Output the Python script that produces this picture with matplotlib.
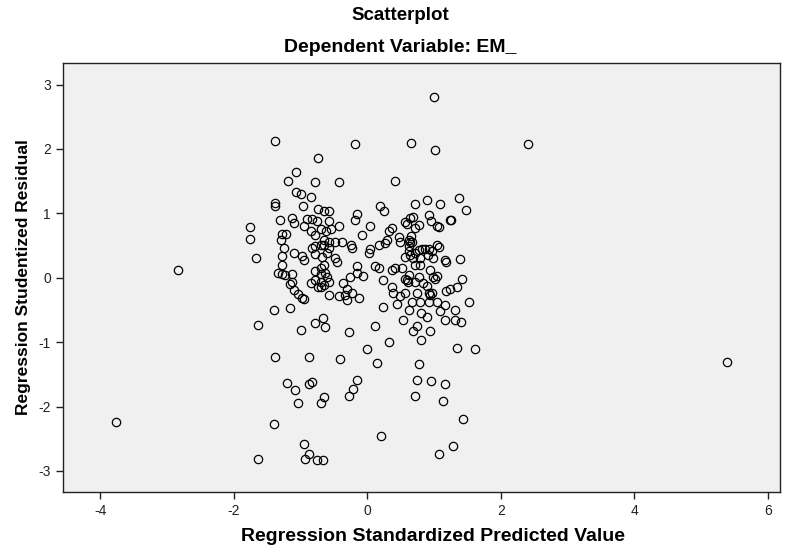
import matplotlib
matplotlib.use("Agg")
import matplotlib.pyplot as plt
import numpy as np

plt.rcParams['font.family'] = ['Liberation Sans', 'DejaVu Sans']
plt.rcParams['axes.unicode_minus'] = False

# Regression Standardized Predicted Value
pred = [
    -1.38, -0.74, -1.06, -1.19, -0.79, -1.06, -0.99, -0.85, -1.38, -1.38,
    -0.96, -0.74, -0.65, -0.57, -1.31, -1.13, -1.10, -0.90, -0.83, -0.75,
    -0.95, -1.76, -1.76, -1.28, -1.21, -1.29, -0.84, -0.78, -1.25, -1.09,
    -0.83, -0.78, -0.65, -1.66, -1.28, -0.98,
    -0.19, 0.65, -0.43, 0.41, 0.19, 0.25, -0.15, -0.18, -0.58, -0.43,
    0.04, -0.69, -0.62, -0.54, 0.37, 0.33, -0.08, 0.47, 0.49, 0.29,
    0.27, -0.65, -0.58, -0.48, -0.38, -0.70, -0.25, -0.23, 0.17, 0.64,
    0.62, -0.58, 0.04, 0.02, -0.68, -0.48, 0.57, 0.64, 0.64, 0.68,
    0.57, 0.72,
    1.01, 1.00, 1.37, 0.89, 1.09, 1.48, 0.93, 0.96, 1.24, 1.26,
    0.77, 0.72, 1.04, 1.07, 0.59, 0.66, 0.63, 0.67, 1.04, 1.07,
    0.87, 0.93, 0.97, 0.82, 0.78, 0.63, 0.69, 0.79, 0.99, 1.17, 1.39,
    -1.28, -0.95, -0.78, -0.60, -1.33, -1.28, -1.23, -1.13, -1.12, -1.15,
    -0.79, -0.70, -0.63, -0.60, -0.85, -0.78, -0.74, -0.69, -1.10, -1.03,
    -0.98, -0.95, -0.58, -1.40, -1.15, -1.64, -0.99, -0.78, -0.67, -0.64,
    -1.38, -0.87,
    -0.46, -0.65, -0.70, -0.15, -0.16, -0.06, -0.26, 0.12, 0.17, 0.24,
    0.37, 0.42, 0.52, 0.57, 0.59, 0.61, 0.62, -0.70, -0.58, -0.65,
    -0.36, -0.30, -0.23, -0.33, -0.43, -0.12, -0.30, 0.37, 0.38, 0.49,
    0.45, 0.62, 0.67, 0.24, 0.53, 0.12, -0.27, 0.68, 0.32, 0.00,
    -0.41, 0.15,
    0.72, 0.91, 1.18, 0.72, 0.79, 0.94, 1.42, 0.72, 0.77, 0.99,
    1.02, 1.04, 0.84, 0.89, 0.74, 0.57, 0.92, 0.94, 0.97, 1.18,
    1.24, 1.34, 1.52, 0.79, 0.92, 1.04, 1.17, 1.09, 1.32, 0.81,
    0.89, 1.17, 1.31, 1.41, 0.74, 0.94, 0.81, 1.34, 1.62, 0.78,
    -1.20, -1.08, -0.88, -0.83, -0.65, -0.69, -1.03, -1.39, -0.95, -0.87,
    -1.63, -0.93, -0.75, -0.67, -0.15, -0.21, -0.27, 0.21, 0.74, 0.95,
    1.16, 0.72, 1.13, 1.44, 1.29, 1.08,
    -3.76, -2.84, 2.41, 5.39,
]

# Regression Studentized Residual
resid = [
    2.13, 1.86, 1.64, 1.51, 1.48, 1.33, 1.30, 1.26, 1.16, 1.12,
    1.11, 1.07, 1.04, 1.03, 0.89, 0.93, 0.85, 0.92, 0.91, 0.88,
    0.80, 0.79, 0.60, 0.68, 0.68, 0.59, 0.72, 0.67, 0.46, 0.39,
    0.46, 0.49, 0.51, 0.31, 0.34, 0.34,
    2.08, 2.09, 1.49, 1.50, 1.12, 1.03, 0.99, 0.90, 0.88, 0.81,
    0.81, 0.75, 0.72, 0.75, 0.78, 0.72, 0.66, 0.63, 0.56, 0.59,
    0.54, 0.59, 0.56, 0.56, 0.56, 0.51, 0.51, 0.47, 0.51, 0.56,
    0.49, 0.46, 0.44, 0.38, 0.33, 0.31, 0.33, 0.36, 0.93, 0.94,
    0.86, 1.15,
    1.98, 2.80, 1.24, 1.21, 1.15, 1.05, 0.98, 0.88, 0.89, 0.89,
    0.82, 0.77, 0.80, 0.79, 0.84, 0.65, 0.59, 0.55, 0.51, 0.48,
    0.45, 0.44, 0.42, 0.44, 0.43, 0.41, 0.31, 0.31, 0.31, 0.28, 0.29,
    0.20, 0.28, 0.37, 0.38, 0.07, 0.06, 0.05, 0.06, -0.06, -0.10,
    0.10, 0.06, 0.08, 0.02, -0.08, -0.04, -0.14, -0.14, -0.19, -0.25,
    -0.32, -0.33, -0.26, -0.50, -0.47, -0.74, -0.81, -0.70, -0.62, -0.77,
    -1.23, -1.23,
    0.24, 0.20, 0.15, 0.18, 0.07, 0.03, 0.02, 0.19, 0.15, -0.03,
    0.12, 0.15, 0.15, -0.02, -0.04, -0.06, 0.05, -0.06, -0.06, -0.11,
    -0.08, -0.18, -0.24, -0.26, -0.29, -0.31, -0.34, -0.14, -0.24, -0.28,
    -0.40, -0.50, -0.37, -0.45, -0.65, -0.75, -0.84, -0.82, -1.00, -1.10,
    -1.26, -1.33,
    0.39, 0.36, 0.24, 0.20, 0.20, 0.12, -0.02, -0.06, 0.02, 0.02,
    -0.02, 0.03, -0.08, -0.12, -0.24, -0.24, -0.24, -0.26, -0.23, -0.20,
    -0.18, -0.14, -0.37, -0.37, -0.37, -0.38, -0.42, -0.52, -0.50, -0.55,
    -0.61, -0.66, -0.65, -0.68, -0.75, -0.82, -0.96, -1.09, -1.10, -1.34,
    -1.63, -1.75, -1.65, -1.62, -1.85, -1.95, -1.95, -2.27, -2.58, -2.74,
    -2.81, -2.81, -2.83, -2.83, -1.58, -1.73, -1.83, -2.46, -1.59, -1.61,
    -1.65, -1.83, -1.91, -2.19, -2.61, -2.74,
    -2.24, 0.12, 2.07, -1.31,
]

x_ticks = [-4, -2, 0, 2, 4, 6]
y_ticks = [-3, -2, -1, 0, 1, 2, 3]

fig = plt.figure(figsize=(7.95, 5.5), dpi=100)
ax = fig.add_axes([0.079, 0.105, 0.902, 0.781])
ax.set_facecolor('#f0f0f0')

ax.plot(pred, resid, linestyle='none', marker='o', markersize=6,
        markerfacecolor='none', markeredgecolor='black', markeredgewidth=0.9)

ax.set_xlim(-4.56, 6.18)
ax.set_ylim(-3.33, 3.34)
ax.set_xticks(x_ticks)
ax.set_yticks(y_ticks)
ax.tick_params(direction='out', length=5, width=1, labelsize=10, colors='#222222')
for s in ax.spines.values():
    s.set_linewidth(1.0)
    s.set_color('#222222')

ax.set_xlabel('Regression Standardized Predicted Value', fontsize=14,
              fontweight='bold')
ax.set_ylabel('Regression Studentized Residual', fontsize=12.5,
              fontweight='bold')
ax.xaxis.set_label_coords(0.516, -0.083)
ax.yaxis.set_label_coords(-0.045, 0.5)

fig.text(0.504, 0.972, 'Scatterplot', ha='center', va='center',
         fontsize=13.5, fontweight='bold')
fig.text(0.504, 0.914, 'Dependent Variable: EM_', ha='center', va='center',
         fontsize=14, fontweight='bold')

fig.savefig('out.png', dpi=100)
